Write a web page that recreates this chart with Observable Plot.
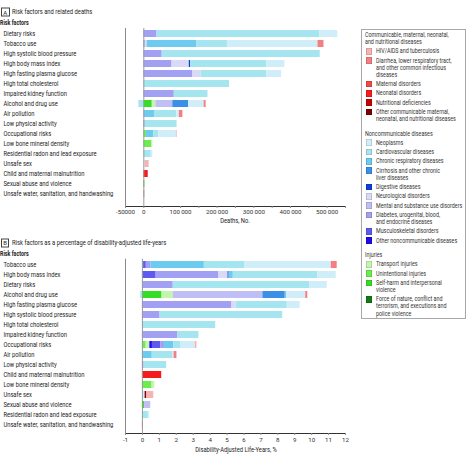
<!DOCTYPE html>
<html><head><meta charset="utf-8">
<script src="https://cdn.jsdelivr.net/npm/d3@7"></script>
<script src="https://cdn.jsdelivr.net/npm/@observablehq/plot@0.6"></script>
<style>
body{margin:0;background:#fff;}
#root{position:relative;width:468px;height:457px;overflow:hidden;font-family:Roboto,"Noto Sans",sans-serif;color:#222;}
.t{position:absolute;white-space:nowrap;line-height:1;}
.panel{position:absolute;left:0;}
.panel svg [aria-label="x-axis tick"], .panel svg [aria-label="x-axis line"]{stroke:#8a8a8a;}
</style></head><body><div id="root"></div><script>
// ---------- categories ----------
const causes = [
  "HIV/AIDS and tuberculosis",
  "Diarrhea, lower respiratory tract,\nand other common infectious\ndiseases",
  "Maternal disorders",
  "Neonatal disorders",
  "Nutritional deficiencies",
  "Other communicable maternal,\nneonatal, and nutritional diseases",
  "Neoplasms",
  "Cardiovascular diseases",
  "Chronic respiratory diseases",
  "Cirrhosis and other chronic\nliver diseases",
  "Digestive diseases",
  "Neurological disorders",
  "Mental and substance use disorders",
  "Diabetes, urogenital, blood,\nand endocrine diseases",
  "Musculoskeletal disorders",
  "Other noncommunicable diseases",
  "Transport injuries",
  "Unintentional injuries",
  "Self-harm and interpersonal\nviolence",
  "Force of nature, conflict and\nterrorism, and executions and\npolice violence"
];
const causeColors = [
  "#f6b3b4","#f37f80","#ef4a4a","#f41c1c","#c70202","#7e0101",
  "#cfeefa","#a5e5f0","#6dcbef","#3c8fe7","#0c3fd8","#dadaf7","#bfbff5","#a1a0f2","#5e59ef","#1e0be6",
  "#c3f5ac","#6bee4d","#36dd25","#137a13"
];
const groupTitles = ["Communicable, maternal, neonatal,\nand nutritional diseases","Noncommunicable diseases","Injuries"];
const groupMembers = [[0,1,2,3,4,5],[6,7,8,9,10,11,12,13,14,15],[16,17,18,19]];
// stacking order (left to right)
const stackOrder = [19,18,17,16,15,14,13,12,11,10,9,8,7,6,5,4,3,2,1,0];

// ---------- panel A: deaths ----------
const risksA = ["Dietary risks","Tobacco use","High systolic blood pressure","High body mass index","High fasting plasma glucose","High total cholesterol","Impaired kidney function","Alcohol and drug use","Air pollution","Low physical activity","Occupational risks","Low bone mineral density","Residential radon and lead exposure","Unsafe sex","Child and maternal malnutrition","Sexual abuse and violence","Unsafe water, sanitation, and handwashing"];
const hivA           = [0,0,0,0,0,0,0,0,0,0,2500,0,0,10500,0,0,0];
const diarrheaA      = [0,16300,0,0,0,0,0,5400,9500,0,0,0,0,0,0,0,2700];
const maternalA      = [0,0,0,0,0,0,0,0,0,0,0,0,0,0,0,0,0];
const neonatalA      = [0,0,0,0,0,0,0,0,0,0,0,0,0,0,12000,0,0];
const nutritionalA   = [0,0,0,0,0,0,0,0,0,0,0,0,0,0,0,0,0];
const otherCommA     = [0,0,0,0,0,0,0,0,0,0,0,0,0,0,0,0,0];
const neoplasmsA     = [49000,247000,0,49000,40000,0,0,42500,7000,0,47500,0,4500,4000,0,0,0];
const cardioA        = [444000,83000,431000,208000,179000,233700,92000,-13600,61000,87000,14000,0,20000,0,0,0,0];
const chronicRespA   = [0,136000,0,0,0,0,0,0,29000,0,20000,0,0,0,0,0,0];
const cirrhosisA     = [0,0,0,0,0,0,0,43000,0,0,0,0,0,0,0,0,0];
const digestiveA     = [0,0,0,3600,0,0,0,0,0,0,0,0,0,0,0,0,0];
const neuroA         = [0,5000,0,47000,22600,0,0,0,0,0,0,0,0,0,0,0,0];
const mentalA        = [0,0,0,0,0,0,0,46000,0,0,0,0,0,0,0,0,0];
const diabetesA      = [36000,4000,50000,77000,134000,0,83000,0,0,3600,0,0,0,0,0,0,0];
const muscA          = [0,0,0,0,0,0,0,0,0,0,0,0,0,0,0,0,0];
const otherNcdA      = [0,0,0,0,0,0,0,0,0,0,0,0,0,0,0,0,0];
const transportA     = [0,0,0,0,0,0,0,10000,0,0,0,2500,0,0,0,0,0];
const unintentionalA = [0,0,0,0,0,0,0,0,0,0,7000,22000,0,0,0,0,0];
const selfHarmA      = [0,0,0,0,0,0,0,23000,0,0,0,0,0,0,0,2700,0];
const forceA         = [0,0,0,0,0,0,0,0,0,0,0,0,0,0,0,0,0];
const tickValuesA = [-50000,0,50000,100000,150000,200000,250000,300000,350000,400000,450000,500000,550000];
const tickLabelsA = ["-50000","0","","100\u2009000","","200\u2009000","","300\u2009000","","400\u2009000","","500\u2009000",""];

// ---------- panel B: DALYs % ----------
const risksB = ["Tobacco use","High body mass index","Dietary risks","Alcohol and drug use","High fasting plasma glucose","High systolic blood pressure","High total cholesterol","Impaired kidney function","Occupational risks","Air pollution","Low physical activity","Child and maternal malnutrition","Low bone mineral density","Unsafe sex","Sexual abuse and violence","Residential radon and lead exposure","Unsafe water, sanitation, and handwashing"];
const hivB           = [0,0,0,0,0,0,0,0,0.1,0,0,0,0,0.41,0,0,0];
const diarrheaB      = [0.35,0,0,0.12,0,0,0,0,0,0.17,0,0,0,0,0,0,0.06];
const maternalB      = [0,0,0,0,0,0,0,0,0,0,0,0,0,0,0,0,0];
const neonatalB      = [0,0,0,0,0,0,0,0,0,0,0,1.08,0,0,0,0,0];
const nutritionalB   = [0,0,0,0,0,0,0,0,0,0,0,0.06,0,0,0,0,0];
const otherCommB     = [0,0,0,0,0,0,0,0,0,0,0,0,0,0.1,0,0,0];
const neoplasmsB     = [5.1,1.08,1.02,1.13,0.76,0,0,0,0.87,0.09,0,0,0,0.16,0,0.08,0];
const cardioB        = [2.4,5.0,8.08,-0.1,3.02,7.25,4.33,1.24,0.39,1.2,1.33,0,0,0,0,0.35,0];
const chronicRespB   = [3.15,0.25,0,0.08,0,0,0,0,0.56,0.58,0,0,0,0,0,0,0];
const cirrhosisB     = [0,0,0,1.32,0,0,0,0,0,0,0,0,0,0,0,0,0];
const digestiveB     = [0,0.06,0,0,0,0,0,0,0,0,0,0,0,0,0,0,0];
const neuroB         = [0,0.54,0,0,0.25,0,0,0,0,0,0,0,0,0,0,0,0];
const mentalB        = [0,0,0,5.3,0,0,0,0,0,0,0,0,0,0,0.36,0,0];
const diabetesB      = [0.28,3.71,1.82,0,5.29,1.04,0,2.1,0.21,0,0.1,0,0,0,0,0,0];
const muscB          = [0.16,0.81,0,0,0,0,0,0,0.5,0,0,0,0,0,0,0,0];
const otherNcdB      = [0,0,0,0,0,0,0,0,0.15,0,0,0,0,0,0,0,0];
const transportB     = [0,0,0,0.66,0,0,0,0,0.22,0,0,0,0.16,0,0,0,0];
const unintentionalB = [0.07,0,0,0,0,0,0,0,0.22,0,0,0,0.57,0,0,0,0];
const selfHarmB      = [0,0,0,1.16,0,0,0,0,0,0,0,0,0,0,0.13,0,0];
const forceB         = [0,0,0,0,0,0,0,0,0,0,0,0,0,0,0,0,0];
const tickValuesB = [-1,0,1,2,3,4,5,6,7,8,9,10,11,12];
const tickLabelsB = ["-1","0","1","2","3","4","5","6","7","8","9","10","11","12"];

const seriesA = [hivA,diarrheaA,maternalA,neonatalA,nutritionalA,otherCommA,neoplasmsA,cardioA,chronicRespA,cirrhosisA,digestiveA,neuroA,mentalA,diabetesA,muscA,otherNcdA,transportA,unintentionalA,selfHarmA,forceA];
const seriesB = [hivB,diarrheaB,maternalB,neonatalB,nutritionalB,otherCommB,neoplasmsB,cardioB,chronicRespB,cirrhosisB,digestiveB,neuroB,mentalB,diabetesB,muscB,otherNcdB,transportB,unintentionalB,selfHarmB,forceB];

// ---------- build ----------
const root = document.getElementById("root");
function addText(str, x, y, o = {}) {
  const d = document.createElement("div");
  d.className = "t";
  d.textContent = str;
  d.style.left = x + "px";
  d.style.top = y + "px";
  d.style.fontSize = (o.size || 7) + "px";
  if (o.bold) d.style.fontWeight = "bold";
  if (o.color) d.style.color = o.color;
  const sx = o.sx || 1;
  if (o.center) {
    d.style.transformOrigin = "center center";
    d.style.transform = `translate(-50%,-50%) scaleX(${sx})`;
  } else {
    d.style.transformOrigin = "left center";
    d.style.transform = `translate(0,-50%) scaleX(${sx})`;
  }
  if (o.box) { d.style.border = "0.8px solid #444"; d.style.padding = "0.5px 1.3px"; }
  root.appendChild(d);
  return d;
}

function toRows(risks, series) {
  const out = [];
  for (const c of stackOrder) {
    series[c].forEach((v, i) => { if (v !== 0) out.push({risk: risks[i], cause: causes[c], color: causeColors[c], value: v}); });
  }
  return out;
}

function panel({risks, series, domain, ticks, labels, top, height, marginBottom, yRange, tickPadding}) {
  const lab = new Map(ticks.map((t, i) => [t, labels[i]]));
  const chart = Plot.plot({
    width: 350, height, marginLeft: 125, marginRight: 5, marginTop: yRange[0], marginBottom,
    style: {fontFamily: "inherit", fontSize: "6.2px", color: "#333", background: "transparent", overflow: "visible"},
    x: {domain, ticks, tickFormat: d => lab.get(d) ?? "", tickSize: 2, tickPadding, line: true, label: null},
    y: {domain: risks, range: yRange, paddingInner: 0.3, paddingOuter: 0.15, axis: null},
    color: {type: "identity"},
    marks: [
      Plot.barX(toRows(risks, series), Plot.stackX({y: "risk", x: "value", fill: "color"})),
      Plot.ruleX([domain[0]], {stroke: "#8a8a8a", strokeWidth: 1}),
      Plot.ruleX([0], {stroke: "#9a9a9a", strokeWidth: 1}),
      Plot.text(risks, {y: d => d, text: d => d, frameAnchor: "left", textAnchor: "start", dx: -122, fontSize: 7, fill: "#222"})
    ]
  });
  // condense the row labels horizontally to match the narrow typeface of the original
  d3.select(chart).selectAll('g[aria-label="text"]').each(function () {
    const g = d3.select(this);
    const prev = g.attr("transform") || "";
    g.attr("transform", `translate(3,0) scale(0.83,1) translate(-3,0) ${prev}`);
  });
  const wrap = document.createElement("div");
  wrap.className = "panel";
  wrap.style.top = top + "px";
  wrap.appendChild(chart);
  root.appendChild(wrap);
}

panel({risks: risksA, series: seriesA, domain: [-50000, 550000], ticks: tickValuesA, labels: tickLabelsA,
  top: 0, height: 228, marginBottom: 22, yRange: [28, 199.5], tickPadding: 1});
panel({risks: risksB, series: seriesB, domain: [-1, 12], ticks: tickValuesB, labels: tickLabelsB,
  top: 230, height: 227, marginBottom: 24, yRange: [28.7, 199.4], tickPadding: 2});

// headers
addText("A", 1, 12, {size: 6, box: true});
addText("Risk factors and related deaths", 12.3, 12, {size: 7, sx: 0.83});
addText("Risk factors", 0.3, 23.3, {size: 7, bold: true, sx: 0.76});
addText("Deaths, No.", 235, 220.5, {size: 6.8, center: true, sx: 0.85});
addText("B", 1, 242.7, {size: 6, box: true});
addText("Risk factors as a percentage of disability-adjusted life-years", 12.3, 242.7, {size: 7, sx: 0.835});
addText("Risk factors", 0.3, 253.7, {size: 7, bold: true, sx: 0.76});
addText("Disability-Adjusted Life-Years, %", 235.8, 449.5, {size: 6.8, center: true, sx: 0.85});

// legend
const box = document.createElement("div");
box.style.cssText = "position:absolute;left:361px;top:29px;width:105px;height:290px;border:1px solid #a8a8a8;box-sizing:border-box;";
root.appendChild(box);
const lineH = 7.1, itemGap = 9.3, groupGap = 14.6, headerGap = 9.1;
let y = 35;
groupTitles.forEach((title, g) => {
  const tl = title.split("\n");
  tl.forEach((s, k) => addText(s, 364.7, y + k * lineH, {size: 6.3, color: "#333", sx: 0.85}));
  y += (tl.length - 1) * lineH + headerGap;
  groupMembers[g].forEach((c, j) => {
    const lines = causes[c].split("\n");
    const sw = document.createElement("div");
    sw.style.cssText = `position:absolute;left:365.7px;top:${y - 3.4}px;width:6.8px;height:6.8px;background:${causeColors[c]};box-shadow:inset 0 0 0 0.6px rgba(0,0,0,0.22);`;
    root.appendChild(sw);
    lines.forEach((s, k) => addText(s, 376, y + k * lineH, {size: 6.3, color: "#333", sx: 0.85}));
    const last = y + (lines.length - 1) * lineH;
    y = last + (j < groupMembers[g].length - 1 ? itemGap : 0);
  });
  y += groupGap;
});
</script></body></html>
